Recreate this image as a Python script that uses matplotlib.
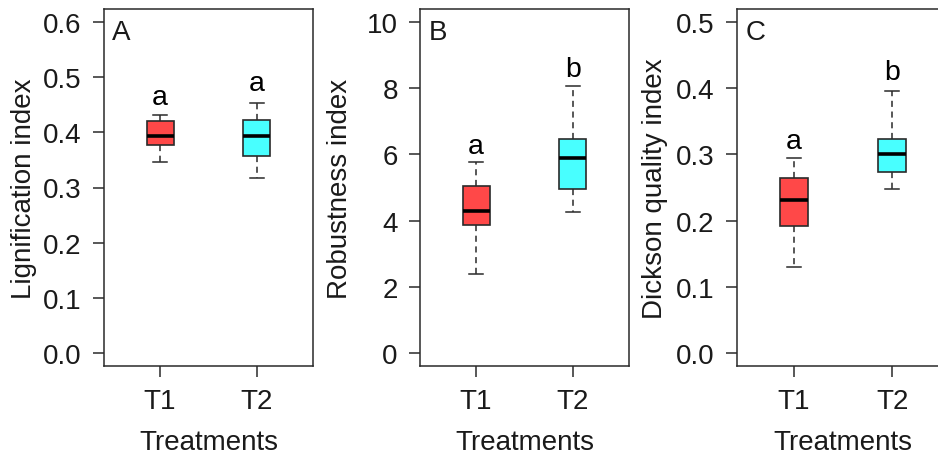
import matplotlib
matplotlib.use("Agg")
import matplotlib.pyplot as plt

plt.rcParams['font.family'] = ['Liberation Sans', 'DejaVu Sans']

# treatments and box statistics
treatments = ["T1", "T2"]
colors = ["#FF4848", "#48FFFF"]

lig_lo = [0.347, 0.318]
lig_q1 = [0.378, 0.358]
lig_med = [0.393, 0.394]
lig_q3 = [0.420, 0.422]
lig_hi = [0.431, 0.454]
lig_letters = ["a", "a"]
lig_letter_y = [0.464, 0.489]

rob_lo = [2.39, 4.27]
rob_q1 = [3.88, 4.94]
rob_med = [4.30, 5.90]
rob_q3 = [5.06, 6.48]
rob_hi = [5.76, 8.06]
rob_letters = ["a", "b"]
rob_letter_y = [6.27, 8.60]

dqi_lo = [0.129, 0.247]
dqi_q1 = [0.192, 0.273]
dqi_med = [0.231, 0.301]
dqi_q3 = [0.264, 0.324]
dqi_hi = [0.295, 0.396]
dqi_letters = ["a", "b"]
dqi_letter_y = [0.320, 0.425]

lig_ticks = [0.0, 0.1, 0.2, 0.3, 0.4, 0.5, 0.6]
rob_ticks = [0, 2, 4, 6, 8, 10]
dqi_ticks = [0.0, 0.1, 0.2, 0.3, 0.4, 0.5]

panels = [
    ("A", "Lignification index", lig_lo, lig_q1, lig_med, lig_q3, lig_hi,
     lig_letters, lig_letter_y, lig_ticks, "%.1f"),
    ("B", "Robustness index", rob_lo, rob_q1, rob_med, rob_q3, rob_hi,
     rob_letters, rob_letter_y, rob_ticks, "%d"),
    ("C", "Dickson quality index", dqi_lo, dqi_q1, dqi_med, dqi_q3, dqi_hi,
     dqi_letters, dqi_letter_y, dqi_ticks, "%.1f"),
]

fig = plt.figure(figsize=(9.38, 4.56), dpi=100)
lefts = [104, 420, 737]
widths = [209, 209, 212]
fs = 20
dark = "#1a1a1a"
edge = "#2a2a2a"

for (tag, ylab, lo, q1, med, q3, hi, letters, letter_y, ticks, fmt), left, w in zip(panels, lefts, widths):
    ax = fig.add_axes([left / 938, 1 - 367 / 456, w / 938, 357 / 456])
    stats = []
    for i in range(len(treatments)):
        stats.append({"whislo": lo[i], "q1": q1[i], "med": med[i],
                      "q3": q3[i], "whishi": hi[i], "fliers": []})
    bp = ax.bxp(stats, positions=[1, 2], widths=0.28, capwidths=0.14,
                patch_artist=True, showfliers=False,
                boxprops=dict(edgecolor=edge, linewidth=1.2),
                medianprops=dict(color="black", linewidth=2.6, solid_capstyle="butt"),
                whiskerprops=dict(color=edge, linewidth=1.1, linestyle=(0, (4, 3))),
                capprops=dict(color=edge, linewidth=1.1))
    for patch, c in zip(bp["boxes"], colors):
        patch.set_facecolor(c)

    for x, (lt, ly) in enumerate(zip(letters, letter_y), start=1):
        ax.text(x, ly, lt, ha="center", va="center", fontsize=fs + 0.5, color="black")

    span = ticks[-1] - ticks[0]
    ax.set_ylim(ticks[0] - 0.04 * span, ticks[-1] + 0.04 * span)
    ax.set_xlim(0.42, 2.58)
    ax.set_yticks(ticks)
    ax.set_yticklabels([fmt % t for t in ticks])
    ax.set_xticks([1, 2])
    ax.set_xticklabels(treatments)
    ax.tick_params(axis="both", length=8, width=1.1, color=edge,
                   labelsize=fs, labelcolor=dark, pad=8)
    for sp in ax.spines.values():
        sp.set_color(edge)
        sp.set_linewidth(1.1)

    ax.set_ylabel(ylab, fontsize=fs, color=dark, va="center")
    ax.yaxis.set_label_coords(-0.385, 0.5)
    ax.set_xlabel("Treatments", fontsize=fs, color=dark, va="center")
    ax.xaxis.set_label_coords(0.5, -0.213)

    ax.text(0.04, 0.972, tag, transform=ax.transAxes, ha="left", va="top",
            fontsize=fs, color=dark)

fig.savefig("out.png", dpi=100)
